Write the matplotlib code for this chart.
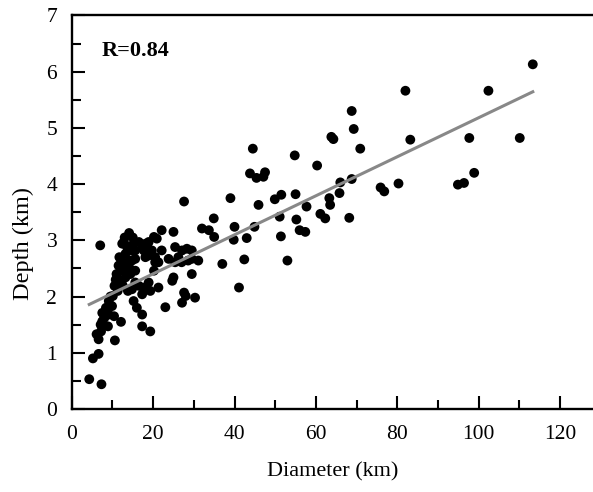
import matplotlib
matplotlib.use("Agg")
import matplotlib.pyplot as plt
import numpy as np
from matplotlib.ticker import MultipleLocator

plt.rcParams['font.family'] = ['Liberation Serif', 'DejaVu Serif']

diameter = [
    4.3, 7.3, 5.2, 6.6, 6.6, 6.1, 10.6, 12.1, 7.1, 7.5, 8.9, 7.5, 9.1, 8.4, 9.9, 9.1, 10.4,
    7.0, 27.6, 34.9, 25.0, 22.1, 32.0, 33.7, 35.0, 14.1, 12.4, 16.5, 18.9, 20.9, 22.1, 25.4,
    27.1, 29.5, 23.8, 26.2, 28.6, 31.1, 25.0, 29.5, 20.2, 21.3, 18.9, 16.5, 17.3, 14.8, 15.2,
    16.0, 17.3, 17.3, 19.3, 23.0, 27.1, 28.0, 30.3,
    11.7, 12.0, 13.2, 12.4, 13.2, 12.0, 14.1, 14.4, 10.5, 11.3, 10.1, 8.0, 7.2,
    12.8, 13.6, 14.8, 15.6, 17.3, 18.5, 19.7, 20.5, 21.3, 15.6, 14.4, 18.1,
    28.3, 29.5, 25.4, 27.0, 24.7, 27.6, 19.3, 17.7, 15.6, 18.1, 14.8, 17.7, 20.2, 18.9, 20.5,
    15.6, 14.8, 13.0, 15.0, 11.0, 11.5, 13.0, 12.5, 13.8, 10.8, 9.5,
    68.8, 69.3, 63.8, 64.3, 70.9, 44.5, 54.8, 60.3, 43.8, 45.4, 47.5, 47.1, 66.0, 68.8, 65.8,
    75.9, 76.8, 80.3, 39.0, 49.9, 51.5, 55.0, 45.9, 63.3, 63.5, 57.7, 51.1, 55.2, 61.1, 62.3,
    68.2, 56.0, 57.4, 40.0, 44.9, 39.8, 43.0, 51.4, 37.0, 42.4, 53.0, 41.1,
    113.3, 82.0, 102.4, 83.2, 97.7, 110.1, 98.9, 94.9, 96.4,
]
depth = [
    0.53, 0.44, 0.90, 0.98, 1.24, 1.33, 1.22, 1.55, 1.50, 1.56, 1.47, 1.71, 1.68, 1.80, 1.83, 1.92, 1.65,
    2.91, 3.69, 3.39, 3.15, 3.18, 3.21, 3.18, 3.06, 3.13, 2.94, 2.97, 2.97, 3.03, 2.82, 2.88,
    2.82, 2.82, 2.67, 2.70, 2.64, 2.64, 2.34, 2.40, 2.46, 2.16, 2.25, 2.19, 2.04, 2.13, 1.92,
    1.80, 1.68, 1.47, 1.38, 1.81, 1.89, 2.01, 1.98,
    2.70, 2.58, 2.76, 2.46, 2.34, 2.28, 2.52, 2.40, 2.19, 2.10, 2.01, 1.62, 1.38,
    2.97, 2.88, 2.91, 2.82, 2.88, 2.91, 2.82, 2.70, 2.61, 2.67, 2.64, 2.70,
    2.85, 2.67, 2.61, 2.61, 2.28, 2.07, 2.10, 2.16, 2.25, 2.94, 2.82, 2.82, 3.06, 2.73, 2.61,
    2.46, 2.64, 3.05, 3.05, 2.40, 2.55, 2.60, 2.20, 2.10, 2.30, 2.00,
    5.30, 4.98, 4.84, 4.80, 4.63, 4.63, 4.51, 4.33, 4.19, 4.11, 4.21, 4.13, 4.03, 4.09, 3.84,
    3.94, 3.87, 4.01, 3.75, 3.73, 3.81, 3.82, 3.63, 3.75, 3.63, 3.60, 3.42, 3.37, 3.47, 3.39,
    3.40, 3.18, 3.15, 3.24, 3.24, 3.01, 3.04, 3.07, 2.58, 2.66, 2.64, 2.16,
    6.13, 5.66, 5.66, 4.79, 4.82, 4.82, 4.20, 3.99, 4.02,
]

fit_slope = 0.0347
fit_intercept = 1.71
r_label = "R=0.84"

x = np.array(diameter)
y = np.array(depth)

fig = plt.figure(figsize=(5.93, 4.92), dpi=100)
ax = fig.add_axes([0.121, 0.1687, 0.879, 0.800])

ax.scatter(x, y, s=50, color='black', edgecolors='none', zorder=2)
xl = np.array([x.min(), x.max()])
ax.plot(xl, fit_slope * xl + fit_intercept, color='#888888', lw=2.2, zorder=3)

ax.set_xlim(0, 128.1)
ax.set_ylim(0, 7)
ax.xaxis.set_major_locator(MultipleLocator(20))
ax.xaxis.set_minor_locator(MultipleLocator(10))
ax.yaxis.set_major_locator(MultipleLocator(1))
ax.yaxis.set_minor_locator(MultipleLocator(0.5))
ax.tick_params(which='major', direction='in', length=9.5, width=1.5, labelsize=15.5)
ax.tick_params(axis='x', which='major', pad=11.5)
ax.tick_params(axis='y', which='major', pad=10.5)
ax.tick_params(which='minor', direction='in', length=6.5, width=1.5)
ax.tick_params(axis='x', which='both', top=False)
ax.tick_params(axis='y', which='both', right=False)
for s in ['left', 'bottom', 'top']:
    ax.spines[s].set_linewidth(1.7)
ax.spines['right'].set_visible(False)

ax.set_xlabel('Diameter (km)', fontsize=16)
ax.xaxis.set_label_coords(0.5, -0.135)
ax.set_ylabel('Depth (km)', fontsize=17.5)
ax.yaxis.set_label_coords(-0.073, 0.42)
ax.text(0.057, 0.909, r_label, transform=ax.transAxes, fontsize=16, fontweight='bold',
        va='center', ha='left')

fig.savefig('out.png', dpi=100)
